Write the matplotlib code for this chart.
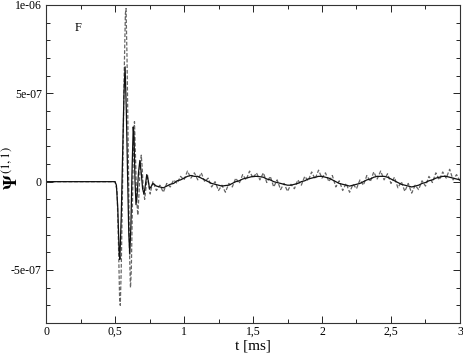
import numpy as np
import matplotlib
matplotlib.use("Agg")
import matplotlib.pyplot as plt
from matplotlib.ticker import MultipleLocator, FuncFormatter

plt.rcParams['font.family'] = ['Liberation Serif', 'DejaVu Serif']
plt.rcParams['mathtext.fontset'] = 'stix'

# transient part (t in ms, values in units of 1e-7)
t_solid_tr = [0.0, 0.50, 0.51, 0.52, 0.53, 0.535, 0.545, 0.555, 0.565, 0.573,
              0.582, 0.592, 0.600, 0.607, 0.615, 0.623, 0.632, 0.638, 0.645,
              0.652, 0.660, 0.670, 0.680, 0.690, 0.700, 0.710, 0.720, 0.730,
              0.740, 0.750, 0.760]
v_solid_tr = [0.0, 0.0, -0.2, -1.5, -4.0, -4.4, -2.0, 1.5, 5.0, 6.5,
              4.0, 0.0, -3.0, -4.1, -2.5, 0.5, 3.1, 2.5, 0.0,
              -1.3, -0.8, 0.5, 1.2, 0.5, -0.4, -0.7, -0.2, 0.4,
              0.1, -0.4, -0.3]

t_dash_tr = [0.0, 0.50, 0.515, 0.525, 0.533, 0.538, 0.545, 0.555, 0.565, 0.575,
             0.580, 0.587, 0.597, 0.605, 0.612, 0.618, 0.627, 0.635, 0.641,
             0.648, 0.657, 0.665, 0.673, 0.682, 0.690, 0.697, 0.705, 0.715,
             0.725, 0.735, 0.745, 0.755, 0.765]
v_dash_tr = [0.0, 0.0, -0.5, -3.5, -6.5, -7.0, -5.0, 0.0, 5.5, 9.5,
             9.8, 7.0, 1.0, -4.0, -6.0, -5.0, -1.0, 2.5, 3.4,
             1.5, -1.0, -1.9, -0.8, 0.8, 1.5, 0.8, -0.5, -1.0,
             -0.3, 0.4, -0.2, -0.7, -0.3]

# later part, sampled every 0.025 ms from 0.775 to 3.0
t_late = np.round(np.arange(0.775, 3.0001, 0.025), 3)
v_solid_late = [-0.1, -0.25, -0.3, -0.35, -0.25, -0.15, -0.1, 0.05, 0.1, 0.2,
                0.3, 0.35, 0.3, 0.3, 0.2, 0.1, 0.0, -0.1, -0.15, -0.2,
                -0.25, -0.22, -0.2, -0.1, 0.0, 0.05, 0.15, 0.2, 0.25, 0.3,
                0.3, 0.28, 0.25, 0.15, 0.1, 0.0, -0.05, -0.1, -0.15, -0.2,
                -0.2, -0.15, -0.1, 0.0, 0.05, 0.15, 0.2, 0.25, 0.3, 0.3,
                0.25, 0.2, 0.1, 0.0, -0.1, -0.15, -0.2, -0.25, -0.2, -0.15,
                -0.1, 0.0, 0.1, 0.15, 0.25, 0.3, 0.3, 0.3, 0.25, 0.15,
                0.05, -0.05, -0.15, -0.2, -0.25, -0.3, -0.25, -0.2, -0.1, -0.05,
                0.05, 0.1, 0.2, 0.25, 0.3, 0.3, 0.25, 0.2, 0.15, 0.1]
v_dash_late = [0.0, -0.5, -0.2, -0.6, -0.1, -0.3, 0.1, -0.1, 0.3, 0.1,
               0.6, 0.2, 0.5, 0.1, 0.5, 0.0, 0.2, -0.3, 0.0, -0.5,
               -0.2, -0.6, -0.1, -0.3, 0.2, -0.1, 0.4, 0.1, 0.6, 0.2,
               0.5, 0.1, 0.5, -0.05, 0.3, -0.3, 0.1, -0.45, -0.1, -0.55,
               -0.15, -0.4, 0.1, -0.2, 0.3, 0.05, 0.55, 0.15, 0.65, 0.2,
               0.5, 0.0, 0.35, -0.3, 0.05, -0.5, -0.1, -0.6, -0.15, -0.4,
               0.1, -0.2, 0.35, 0.0, 0.55, 0.15, 0.6, 0.1, 0.45, -0.1,
               0.25, -0.35, 0.0, -0.55, -0.1, -0.65, -0.2, -0.45, 0.05, -0.25,
               0.3, -0.05, 0.5, 0.1, 0.55, 0.2, 0.7, 0.1, 0.4, 0.05]

t_solid = np.concatenate([t_solid_tr, t_late])
y_solid = np.concatenate([v_solid_tr, v_solid_late]) * 1e-7
t_dash = np.concatenate([t_dash_tr, t_late])
y_dash = np.concatenate([v_dash_tr, v_dash_late]) * 1e-7

fig = plt.figure(figsize=(4.63, 3.54), dpi=100)
ax = fig.add_axes([0.0994, 0.0876, 0.8941, 0.8983])

ax.plot(t_dash, y_dash, color='#666666', lw=0.9, ls=(0, (3, 1.5)))
ax.plot(t_solid, y_solid, color='#111111', lw=0.9)

ax.set_xlim(0, 3)
ax.set_ylim(-8e-7, 1e-6)

ax.xaxis.set_major_locator(MultipleLocator(0.5))
ax.xaxis.set_minor_locator(MultipleLocator(0.25))
ax.yaxis.set_major_locator(MultipleLocator(5e-7))
ax.yaxis.set_minor_locator(MultipleLocator(1e-7))

def xfmt(v, pos):
    return ('%g' % v).replace('.', ',')

def yfmt(v, pos):
    if abs(v) < 1e-12:
        return '0'
    return '%.0e' % v

ax.xaxis.set_major_formatter(FuncFormatter(xfmt))
ax.yaxis.set_major_formatter(FuncFormatter(yfmt))

ax.tick_params(which='both', direction='in', top=True, right=True, labelsize=8.5, width=0.6)
ax.tick_params(which='major', length=5, pad=3)
ax.tick_params(axis='x', which='major', pad=2)
ax.tick_params(which='minor', length=3)
for sp in ax.spines.values():
    sp.set_linewidth(0.8)
    sp.set_color('#333333')

fig.text(0.5 * (46 + 460) / 463, 1 - 349 / 354, 't [ms]', fontsize=11,
         ha='center', va='baseline')
fig.text(12 / 463, 1 - 168 / 354, r'$\mathbf{\Psi}^{\,(1,1)}$', fontsize=13,
         rotation=90, ha='center', va='center')

ax.text(0.21, 8.55e-7, 'F', fontsize=9)

fig.savefig('out.png', dpi=100)
